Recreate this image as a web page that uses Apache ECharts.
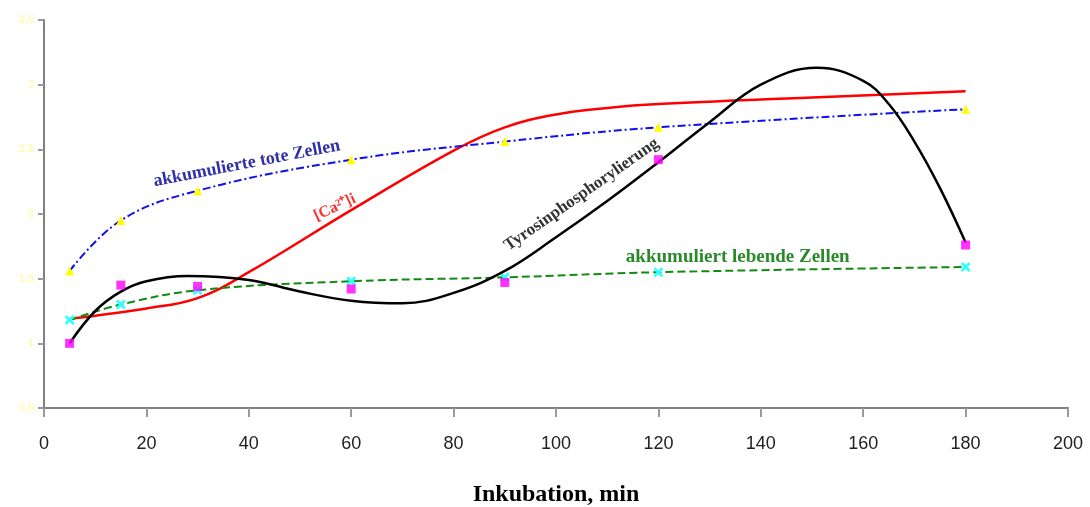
<!DOCTYPE html>
<html>
<head>
<meta charset="utf-8">
<script src="https://cdn.jsdelivr.net/npm/echarts@6/dist/echarts.min.js"></script>
<style>
  html, body { margin: 0; padding: 0; background: #fff; }
  #chart { width: 1090px; height: 507px; }
</style>
</head>
<body>
<div id="chart"></div>
<script>
// sampling times (min)
var times = [5, 15, 30, 60, 90, 120, 180];

// akkumulierte tote Zellen (blue, yellow triangles)
var toteZellen = [1.56, 1.95, 2.18, 2.42, 2.56, 2.67, 2.81];
// akkumuliert lebende Zellen (green, cyan crosses)
var lebendeZellen = [1.18, 1.30, 1.41, 1.48, 1.51, 1.55, 1.59];
// Tyrosinphosphorylierung measured points (magenta squares)
var tyrosinPunkte = [1.0, 1.45, 1.44, 1.42, 1.47, 2.42, 1.76];

// Tyrosinphosphorylierung trend line
var tyrosinTrendX = [5, 10, 15, 20, 28, 40, 50, 60, 70, 80, 90, 100, 110, 120, 130, 140, 151, 160, 165, 170, 175, 180];
var tyrosinTrendY = [1.0, 1.25, 1.40, 1.48, 1.52, 1.49, 1.40, 1.33, 1.31, 1.39, 1.56, 1.82, 2.10, 2.40, 2.71, 3.00, 3.13, 3.03, 2.85, 2.56, 2.20, 1.78];

// [Ca2+]i curve
var calciumX = [5, 20, 30, 40, 60, 80, 90, 100, 110, 120, 150, 180];
var calciumY = [1.19, 1.27, 1.35, 1.55, 2.03, 2.49, 2.67, 2.77, 2.82, 2.85, 2.90, 2.95];

function pairs(xs, ys) {
  return xs.map(function (x, i) { return [x, ys[i]]; });
}

var chart = echarts.init(document.getElementById('chart'), null, {renderer: 'canvas'});

var crossSymbol = 'path://M0,2L2,0L5,3L8,0L10,2L7,5L10,8L8,10L5,7L2,10L0,8L3,5Z';

chart.setOption({
  animation: false,
  backgroundColor: '#ffffff',
  grid: {left: 44, right: 22, top: 20, bottom: 99, outerBoundsMode: 'none', containLabel: false},
  xAxis: {
    type: 'value',
    min: 0, max: 200, interval: 20,
    name: 'Inkubation, min',
    nameLocation: 'middle',
    nameGap: 75,
    nameTextStyle: {fontFamily: 'Liberation Serif', fontWeight: 'bold', fontSize: 24, color: '#000'},
    axisLine: {lineStyle: {color: '#808080', width: 2}},
    axisTick: {show: true, length: 9, lineStyle: {color: '#999', width: 2}},
    axisLabel: {color: '#222', fontFamily: 'Liberation Sans', fontSize: 18, margin: 27},
    splitLine: {show: false}
  },
  yAxis: {
    type: 'value',
    min: 0.5, max: 3.5, interval: 0.5,
    axisLine: {show: true, lineStyle: {color: '#808080', width: 2}},
    axisTick: {show: true, length: 6, lineStyle: {color: '#999', width: 2}},
    axisLabel: {
      color: '#fffbb0', fontFamily: 'Liberation Sans', fontSize: 11, fontWeight: 'bold', margin: 10,
      formatter: function (v) { return String(v).replace('.', ','); }
    },
    splitLine: {show: false}
  },
  series: [
    {
      name: '[Ca2+]i', type: 'line', smooth: 0.4, showSymbol: false,
      data: pairs(calciumX, calciumY),
      lineStyle: {color: '#ff0000', width: 2.5}, z: 2
    },
    {
      name: 'akkumulierte tote Zellen', type: 'line', smooth: 0.4,
      data: pairs(times, toteZellen),
      symbol: 'triangle', symbolSize: 9,
      itemStyle: {color: '#ffff00'},
      lineStyle: {color: '#1010ee', width: 2, type: [8, 3, 2, 3]}, z: 3
    },
    {
      name: 'akkumuliert lebende Zellen', type: 'line', smooth: 0.4,
      data: pairs(times, lebendeZellen),
      symbol: crossSymbol, symbolSize: 10,
      itemStyle: {color: '#33ffff'},
      lineStyle: {color: '#108a10', width: 2, type: [8, 4]}, z: 3
    },
    {
      name: 'Tyrosinphosphorylierung Trend', type: 'line', smooth: 0.4, showSymbol: false,
      data: pairs(tyrosinTrendX, tyrosinTrendY),
      lineStyle: {color: '#000000', width: 2.5}, z: 4
    },
    {
      name: 'Tyrosinphosphorylierung', type: 'scatter',
      data: pairs(times, tyrosinPunkte),
      symbol: 'rect', symbolSize: 9,
      itemStyle: {color: '#ff00ff'}, z: 5
    }
  ]
});

// rotated curve annotations, anchored in data space
var notes = [
  {text: 'akkumulierte tote Zellen', at: [39.6, 2.39], rot: 11, color: '#3030a8', size: 18},
  {text: '[Ca²⁺]i', at: [56.8, 2.05], rot: 25, color: '#ff3030', size: 16},
  {text: 'Tyrosinphosphorylierung', at: [105, 2.15], rot: 35, color: '#333333', size: 17},
  {text: 'akkumuliert lebende Zellen', at: [135.5, 1.67], rot: 0, color: '#2a8a2a', size: 19}
];

chart.setOption({
  graphic: notes.map(function (n) {
    var p = chart.convertToPixel({gridIndex: 0}, n.at);
    return {
      type: 'text', x: p[0], y: p[1], rotation: n.rot * Math.PI / 180, z: 10,
      style: {
        text: n.text, fill: n.color, align: 'center', verticalAlign: 'middle',
        font: 'bold ' + n.size + 'px "Liberation Serif"'
      }
    };
  })
});
</script>
</body>
</html>
